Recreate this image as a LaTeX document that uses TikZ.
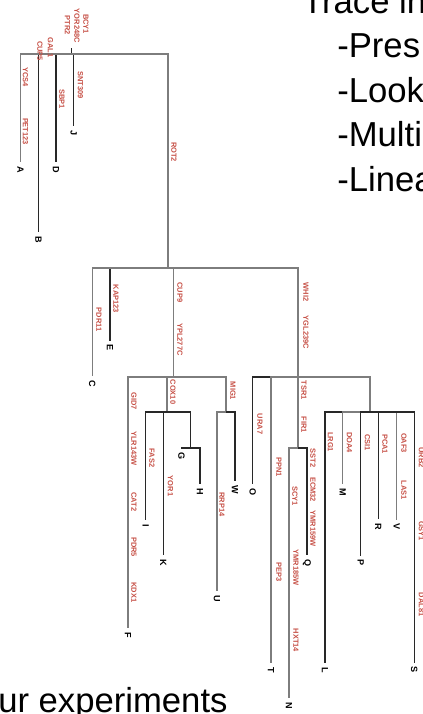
\documentclass[tikz,border=0pt]{standalone}
\usepackage{fontspec}
\setmainfont{Liberation Sans}
\usepackage{tikz}
\usepackage{color}
\definecolor{genered}{RGB}{198,80,70}
\definecolor{darkedge}{RGB}{40,40,40}
\definecolor{lightedge}{RGB}{125,125,125}

\begin{document}
\begin{tikzpicture}[x=0.75pt,y=0.75pt,yscale=-1,xscale=1,
  gene/.style={text=genered, font=\fontsize{5.6}{6}\selectfont\bfseries, rotate=-90, inner sep=0pt},
  leaf/.style={font=\fontsize{6.8}{7}\selectfont\bfseries, rotate=-90, inner sep=3pt},
  bk/.style={draw=darkedge, line width=0.8pt},
  gr/.style={draw=lightedge, line width=1pt},
  slide/.style={font=\fontsize{26}{30}\selectfont, anchor=base west, inner sep=0pt}]
\useasboundingbox (0,0) rectangle (422,714);
\clip (0,0) rectangle (422,714);

% Branch points
\coordinate (rootTop) at (71.5,48);
\coordinate (root) at (71.5,54);
\coordinate (rot) at (168,268);
\coordinate (cup) at (173.5,377);
\coordinate (cox) at (167,412);
\coordinate (gh) at (190.5,448);
\coordinate (mig) at (226,412);
\coordinate (whi) at (298,377);
\coordinate (tsr) at (298,448);
\coordinate (lrg) at (370,412);

% Leaves
\node [leaf] (A) at (20.5,170) {A};
\node [leaf] (B) at (38.5,240) {B};
\node [leaf] (D) at (56,170) {D};
\node [leaf] (J) at (73.7,133) {J};
\node [leaf] (C) at (92.3,384) {C};
\node [leaf] (E) at (110,348) {E};
\node [leaf] (F) at (128,635) {F};
\node [leaf] (I) at (145.7,526) {I};
\node [leaf] (K) at (163.3,563) {K};
\node [leaf] (G) at (181.5,456) {G};
\node [leaf] (H) at (200,492) {H};
\node [leaf] (U) at (217,599) {U};
\node [leaf] (W) at (235,490) {W};
\node [leaf] (O) at (252.7,492) {O};
\node [leaf] (T) at (271,670) {T};
\node [leaf] (N) at (289,706) {N};
\node [leaf] (Q) at (307,563) {Q};
\node [leaf] (L) at (325,670) {L};
\node [leaf] (M) at (342.7,492) {M};
\node [leaf] (P) at (360.7,563) {P};
\node [leaf] (R) at (378.3,527) {R};
\node [leaf] (V) at (396.7,527) {V};
\node [leaf] (S) at (414.3,670) {S};

% Branches
\draw [bk] (rootTop) -- (root);
\draw [bk] (root) -| (B);
\draw [bk] (root) -| (D);
\draw [bk] (root) -| (J);
\draw [gr] (root) -| (A);
\draw [gr] (root) -| (rot);
\draw [bk] (rot) -| (E);
\draw [gr] (rot) -| (C);
\draw [gr] (rot) -| (cup);
\draw [gr] (rot) -| (whi);
\draw [gr] (cup) -| (F);
\draw [gr] (cup) -| (cox);
\draw [gr] (cup) -| (mig);
\draw [bk] (cox) -| (I);
\draw [bk] (cox) -| (K);
\draw [bk] (cox) -| (gh);
\draw [bk] (gh) -| (G);
\draw [bk] (gh) -| (H);
\draw [gr] (mig) -| (U);
\draw [bk] (mig) -| (W);
\draw [bk] (whi) -| (O);
\draw [gr] (whi) -| (T);
\draw [gr] (whi) -| (tsr);
\draw [gr] (whi) -| (lrg);
\draw [gr] (tsr) -| (N);
\draw [bk] (tsr) -| (Q);
\draw [bk] (lrg) -| (L);
\draw [gr] (lrg) -| (M);
\draw [bk] (lrg) -| (P);
\draw [bk] (lrg) -| (R);
\draw [gr] (lrg) -| (V);
\draw [bk] (lrg) -| (S);

% Gene labels
\node [gene] (PTR2) at (67.5,25) {PTR2};
\node [gene] (YOR248C) at (77,26) {YOR248C};
\node [gene] (BCY1) at (86,24) {BCY1};
\node [gene] (CUP5) at (40,51) {CUP5};
\node [gene] (GAL1) at (50.5,47.5) {GAL1};
\node [gene] (YCS4) at (25.5,77) {YCS4};
\node [gene] (PET123) at (25.5,131.5) {PET123};
\node [gene] (SBP1) at (62,99) {SBP1};
\node [gene] (SNT309) at (80.5,85) {SNT309};
\node [gene] (ROT2) at (174,152) {ROT2};
\node [gene] (KAP123) at (116,299) {KAP123};
\node [gene] (PDR11) at (99,319.5) {PDR11};
\node [gene] (CUP9) at (180,292.5) {CUP9};
\node [gene] (YPL277C) at (180,339.5) {YPL277C};
\node [gene] (COX10) at (173,392) {COX10};
\node [gene] (GID7) at (134,401) {GID7};
\node [gene] (YLR143W) at (134,448.5) {YLR143W};
\node [gene] (CAT2) at (134,502) {CAT2};
\node [gene] (PDR5) at (134,547) {PDR5};
\node [gene] (KDX1) at (134,592.5) {KDX1};
\node [gene] (FAS2) at (152,458) {FAS2};
\node [gene] (YOR1) at (170.5,486) {YOR1};
\node [gene] (MIG1) at (233,391) {MIG1};
\node [gene] (RRP14) at (222,504.5) {RRP14};
\node [gene] (WHI2) at (306,292) {WHI2};
\node [gene] (YGL239C) at (306,332.5) {YGL239C};
\node [gene] (TSR1) at (304,390) {TSR1};
\node [gene] (FIR1) at (304,425) {FIR1};
\node [gene] (URA7) at (260,424) {URA7};
\node [gene] (PPN1) at (279,467) {PPN1};
\node [gene] (PEP3) at (279,572) {PEP3};
\node [gene] (SST2) at (313,458) {SST2};
\node [gene] (ECM32) at (313,489.5) {ECM32};
\node [gene] (YMR159W) at (313,528.5) {YMR159W};
\node [gene] (SCY1) at (295,496) {SCY1};
\node [gene] (YMR185W) at (296,567.5) {YMR185W};
\node [gene] (HXT14) at (296,640.5) {HXT14};
\node [gene] (LRG1) at (330.5,442) {LRG1};
\node [gene] (DOA4) at (349.5,442.5) {DOA4};
\node [gene] (CSI1) at (367.5,442.5) {CSI1};
\node [gene] (PCA1) at (385,444) {PCA1};
\node [gene] (OAF3) at (404,443) {OAF3};
\node [gene] (LAS1) at (404,490) {LAS1};
\node [gene] (URB2) at (421.5,457.5) {URB2};
\node [gene] (GSY1) at (421.5,531) {GSY1};
\node [gene] (DAL81) at (421.5,604.5) {DAL81};

% Slide text
\node [slide] (trace) at (302,13) {Trace in};
\node [slide] (pres) at (337,57.5) {-Pres};
\node [slide] (look) at (337,102) {-Look};
\node [slide] (multi) at (337,146.5) {-Multi};
\node [slide] (linea) at (337,191) {-Linea};
\node [slide] (exper) at (-2,712) {ur experiments};
\end{tikzpicture}
\end{document}
